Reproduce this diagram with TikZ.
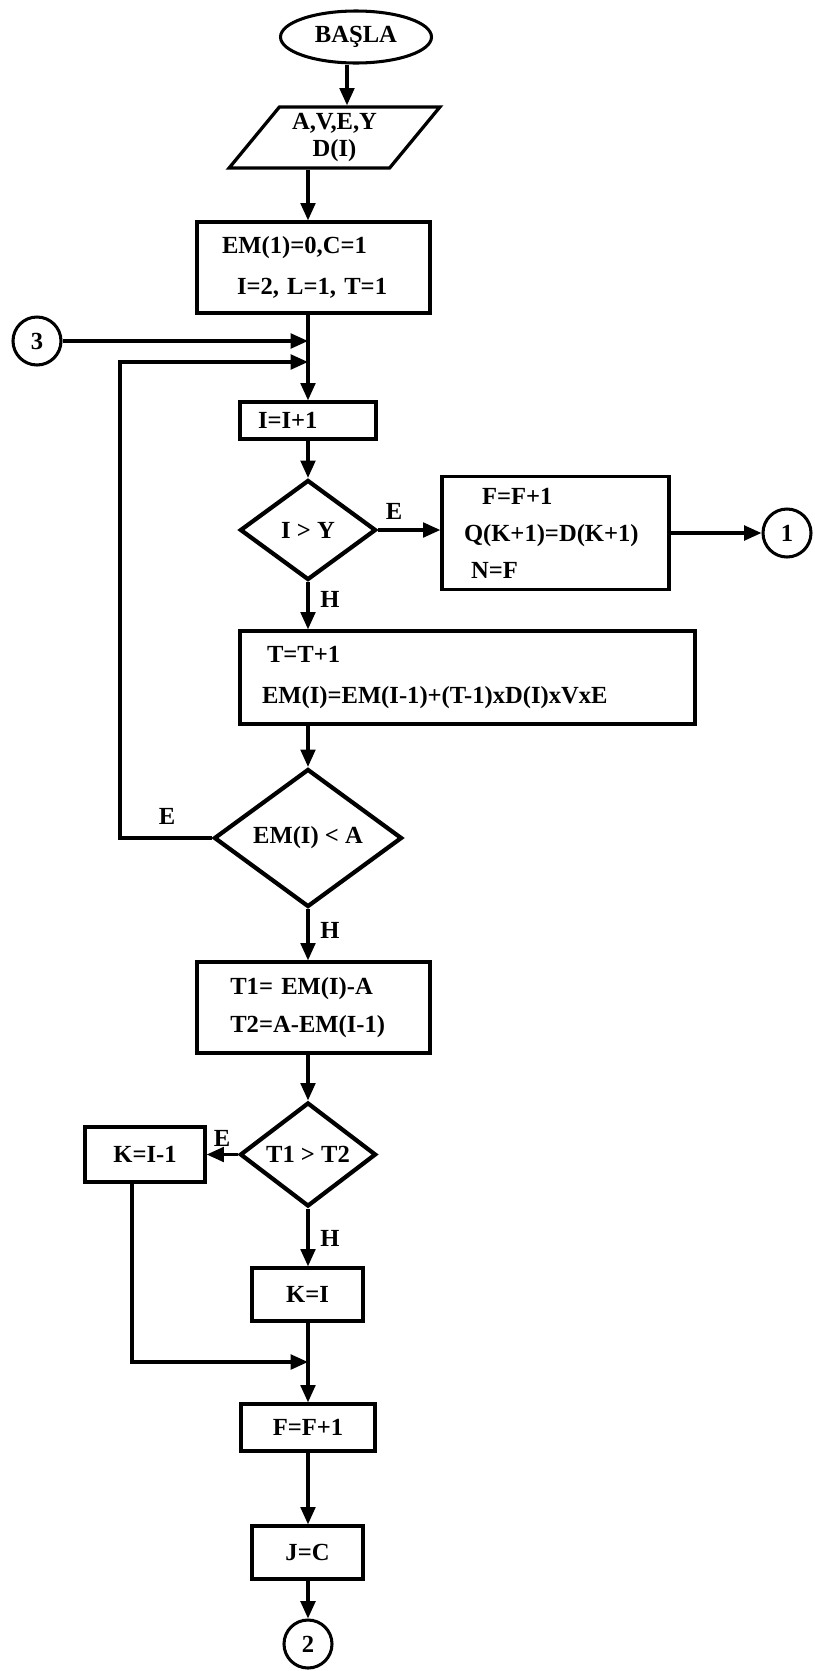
\documentclass[tikz,border=0pt]{standalone}
\usepackage{fontspec}
\setmainfont{Liberation Serif}
\usetikzlibrary{arrows.meta,shapes.geometric}
\tikzset{
  flowarr/.style  = {-{Triangle[length=5.2mm,width=4.4mm]},line width=2.7pt},
  procbox/.style  = {draw,line width=2.8pt,align=left,inner ysep=0pt,
                     font=\fontsize{21}{35}\selectfont\bfseries},
  decbox/.style   = {draw,diamond,line width=3.6pt,inner sep=0pt,
                     font=\fontsize{21}{25}\selectfont\bfseries},
  ionode/.style   = {draw,trapezium,trapezium left angle=53,trapezium right angle=127,
                     trapezium stretches=true,line width=2.8pt,align=center,
                     font=\fontsize{21}{23}\selectfont\bfseries},
  termnode/.style = {draw,ellipse,line width=2.6pt,font=\fontsize{21}{25}\selectfont\bfseries},
  connode/.style  = {draw,circle,line width=2.6pt,minimum size=14.4mm,inner sep=0pt,
                     font=\fontsize{21}{25}\selectfont\bfseries},
  brlabel/.style  = {font=\fontsize{21}{25}\selectfont\bfseries}
}

\begin{document}
\begin{tikzpicture}[x=0.3mm,y=-0.3mm]
  \useasboundingbox (0,0) rectangle (814,1671);
  \coordinate (col) at (308,0);
  % upper part
  \node[termnode,minimum width=45.3mm,minimum height=15.6mm] (start) at (356,37) {BAŞLA};
  \node[ionode,minimum width=63.3mm,minimum height=18.3mm] (inp) at (334.5,137.5) {A,V,E,Y\\D(I)};
  \node[procbox,minimum height=27.3mm,inner xsep=7.5mm,text width=54.9mm] (init) at (313.5,267.5)
    {EM(1)=0,C=1\\\hspace{4.5mm}I=2, L=1, T=1};
  \node[connode] (c3) at (37,341) {3};
  \coordinate (j1) at (308,341);
  \coordinate (j2) at (308,362);
  \coordinate (lp) at (120,362);
  \node[procbox,minimum height=11.1mm,inner xsep=5.4mm,text width=30mm] (inc) at (308,420.5) {I=I+1};
  \node[decbox,minimum width=40.8mm,minimum height=30mm] (d1) at (308,530) {I > Y};
  \node[procbox,minimum height=33.9mm,inner xsep=6.6mm,text width=54.9mm] (f1) at (555.5,533)
    {\hspace{5.4mm}F=F+1\\[-3.4pt]Q(K+1)=D(K+1)\\[-3.4pt]\hspace{2.1mm}N=F};
  \node[connode] (c1) at (787,533) {1};
  \node[procbox,minimum height=27.9mm,inner xsep=6.6mm,text width=123.3mm] (tt) at (467.5,677.5)
    {\hspace{1.5mm}T=T+1\\[0pt]EM(I)=EM(I-1)+(T-1)xD(I)xVxE};
  \node[decbox,minimum width=56.4mm,minimum height=41.4mm] (d2) at (308,838) {EM(I) < A};
  % lower part
  \node[procbox,minimum height=27.3mm,inner xsep=10mm,text width=49.9mm] (t1) at (313.5,1007.5)
    {T1= EM(I)-A\\[-2.7pt]T2=A-EM(I-1)};
  \node[decbox,minimum width=40.8mm,minimum height=31.2mm] (d3) at (308,1154.5) {T1 > T2};
  \node[procbox,minimum width=36mm,minimum height=16.5mm] (k1) at (145,1154.5) {K=I-1};
  \node[procbox,minimum width=33.3mm,minimum height=15.9mm] (k2) at (307.5,1294.5) {K=I};
  \coordinate (k1x) at (132,1362);
  \coordinate (j3) at (308,1362);
  \node[procbox,minimum width=40.2mm,minimum height=14.1mm] (f2) at (308,1427.5) {F=F+1};
  \node[procbox,minimum width=33.3mm,minimum height=15.9mm] (jc) at (307.5,1552.5) {J=C};
  \node[connode] (c2) at (308,1644) {2};
  % branch labels
  \node[brlabel] (e1) at (394,511) {E};
  \node[brlabel] (h1) at (330,599) {H};
  \node[brlabel] (e2) at (167,816) {E};
  \node[brlabel] (h2) at (330,930) {H};
  \node[brlabel] (e3) at (222,1138) {E};
  \node[brlabel] (h3) at (330,1238) {H};
  % connectors
  \draw[flowarr] ([xshift=-2.7mm]start.south) -- ([xshift=-2.7mm]start.south |- inp.north);
  \draw[flowarr] (inp.south -| col) -- (init.north -| col);
  \draw[flowarr] (init.south -| col) -- (inc.north -| col);
  \draw[flowarr] (c3) -- (j1);
  \draw[flowarr] (d2.west) -| (lp) -- (j2);
  \draw[flowarr] (inc.south -| col) -- (d1.north);
  \draw[flowarr] (d1.east) -- (d1.east -| f1.west);
  \draw[flowarr] (f1.east) -- (c1.west);
  \draw[flowarr] (d1.south) -- (tt.north -| col);
  \draw[flowarr] (tt.south -| col) -- (d2.north);
  \draw[flowarr] (d2.south) -- (t1.north -| col);
  \draw[flowarr] (t1.south -| col) -- (d3.north);
  \draw[flowarr] (d3.west) -- (k1.east);
  \draw[flowarr] (d3.south) -- (k2.north -| col);
  \draw[flowarr] (k1.south -| k1x) -- (k1x) -- (j3);
  \draw[flowarr] (k2.south -| col) -- (f2.north -| col);
  \draw[flowarr] (f2.south -| col) -- (jc.north -| col);
  \draw[flowarr] (jc.south -| col) -- (c2.north);
\end{tikzpicture}
\end{document}
